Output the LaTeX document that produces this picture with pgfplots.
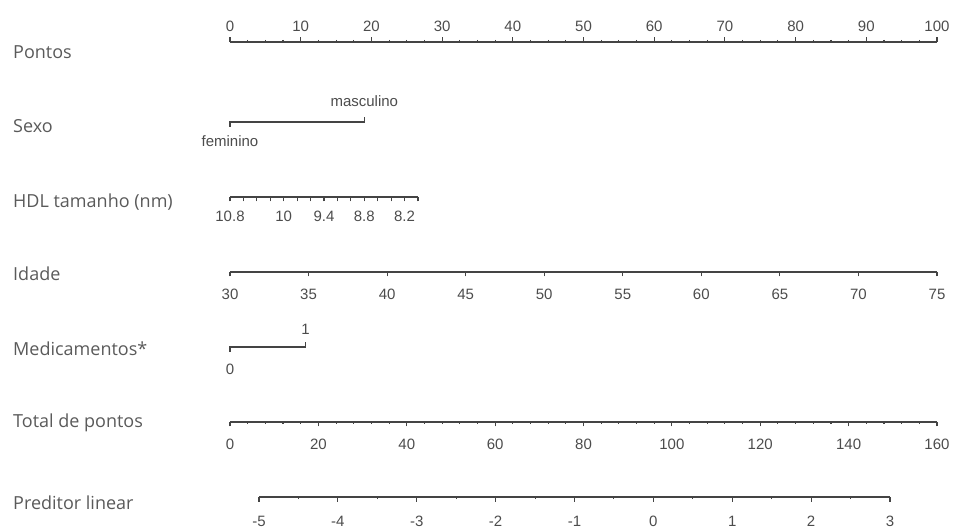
\documentclass[border=0pt]{standalone}
\usepackage{fontspec}
\usepackage{pgfplots}
\pgfplotsset{compat=1.18}
\setmainfont{Liberation Sans}
\newfontfamily\labfont{Open Sans}
\definecolor{linec}{HTML}{444444}
\definecolor{tickc}{HTML}{4C4C4C}
\definecolor{labc}{HTML}{5A5A5A}
\newcommand\tickfont{\fontsize{15bp}{17bp}\selectfont}
\newcommand\rowfont{\labfont\fontsize{18bp}{21bp}\selectfont}
\pgfplotsset{
  nomo/.style={
    scale only axis, height=10bp, ymin=0, ymax=1,
    hide y axis, clip=false,
    axis line style={linec, line width=1.2bp},
    tick style={linec, line width=1.1bp},
    major tick length=4.5bp, minor tick length=2bp,
    xtick align=outside,
    /pgf/number format/assume math mode=true,
    xticklabel style={font=\tickfont, text=tickc, anchor=base},
  },
  nomobot/.style={nomo, axis x line*=bottom, anchor=south west},
  nomotop/.style={nomo, axis x line*=top, anchor=north west},
  nomocat/.style={scale only axis, width=707bp, height=20bp, xmin=0, xmax=100,
    ymin=-10, ymax=10, hide x axis, hide y axis, clip=false, anchor=west},
}
\begin{document}
\begin{tikzpicture}
\useasboundingbox (0bp,0bp) rectangle (956bp,530bp);

% row labels
\begin{scope}[every node/.style={anchor=base west, font=\rowfont, text=labc, inner sep=0pt}]
\node at (13bp,471bp) {Pontos};
\node at (13bp,397bp) {Sexo};
\node at (13bp,322bp) {HDL tamanho (nm)};
\node at (13bp,249bp) {Idade};
\node at (13bp,174bp) {Medicamentos*};
\node at (13bp,102bp) {Total de pontos};
\node at (13bp,21bp) {Preditor linear};
\end{scope}

% Pontos
\begin{axis}[nomotop, at={(230bp,488bp)}, width=707bp, xmin=0, xmax=100,
  xtick={0,10,...,100}, minor x tick num=3,
  xticklabel style={yshift=6bp}]
\addplot[draw=none] coordinates {(0,1) (100,1)};
\end{axis}

% Sexo
\begin{axis}[nomocat, at={(230bp,408bp)}]
\addplot[linec, line width=1.2bp] coordinates {(0,-5) (0,0) (19,0) (19,5)};
\node[anchor=base, font=\tickfont, text=tickc, inner sep=0pt] at (axis cs:0,-25) {feminino};
\node[anchor=base, font=\tickfont, text=tickc, inner sep=0pt] at (axis cs:19,15) {masculino};
\end{axis}

% HDL tamanho
\begin{axis}[nomobot, at={(230bp,333bp)}, width=188bp, xmin=8.0, xmax=10.8, x dir=reverse,
  xtick={10.8,10.6,10.4,10.2,10.0,9.8,9.6,9.4,9.2,9.0,8.8,8.6,8.4,8.2,8.0},
  xticklabels={10.8,{},{},{},10,{},{},9.4,{},{},8.8,{},{},8.2,{}},
  xticklabel style={yshift=-20bp}]
\addplot[draw=none] coordinates {(10.8,0) (8.0,0)};
\end{axis}

% Idade
\begin{axis}[nomobot, at={(230bp,258bp)}, width=707bp, xmin=30, xmax=75,
  xtick={30,35,...,75},
  xticklabel style={yshift=-23bp}]
\addplot[draw=none] coordinates {(30,0) (75,0)};
\end{axis}

% Medicamentos
\begin{axis}[nomocat, at={(230bp,183bp)}]
\addplot[linec, line width=1.2bp] coordinates {(0,-5) (0,0) (10.7,0) (10.7,5)};
\node[anchor=base, font=\tickfont, text=tickc, inner sep=0pt] at (axis cs:0,-28) {0};
\node[anchor=base, font=\tickfont, text=tickc, inner sep=0pt] at (axis cs:10.7,12) {1};
\end{axis}

% Total de pontos
\begin{axis}[nomobot, at={(230bp,108bp)}, width=707bp, xmin=0, xmax=160,
  xtick={0,20,...,160}, minor x tick num=4,
  xticklabel style={yshift=-23bp}]
\addplot[draw=none] coordinates {(0,0) (160,0)};
\end{axis}

% Preditor linear
\begin{axis}[nomobot, at={(259bp,33bp)}, width=631bp, xmin=-5, xmax=3,
  xtick={-5,-4,...,3}, minor x tick num=1,
  xticklabels={-5,-4,-3,-2,-1,0,1,2,3},
  xticklabel style={yshift=-25bp}]
\addplot[draw=none] coordinates {(-5,0) (3,0)};
\end{axis}

\end{tikzpicture}
\end{document}
